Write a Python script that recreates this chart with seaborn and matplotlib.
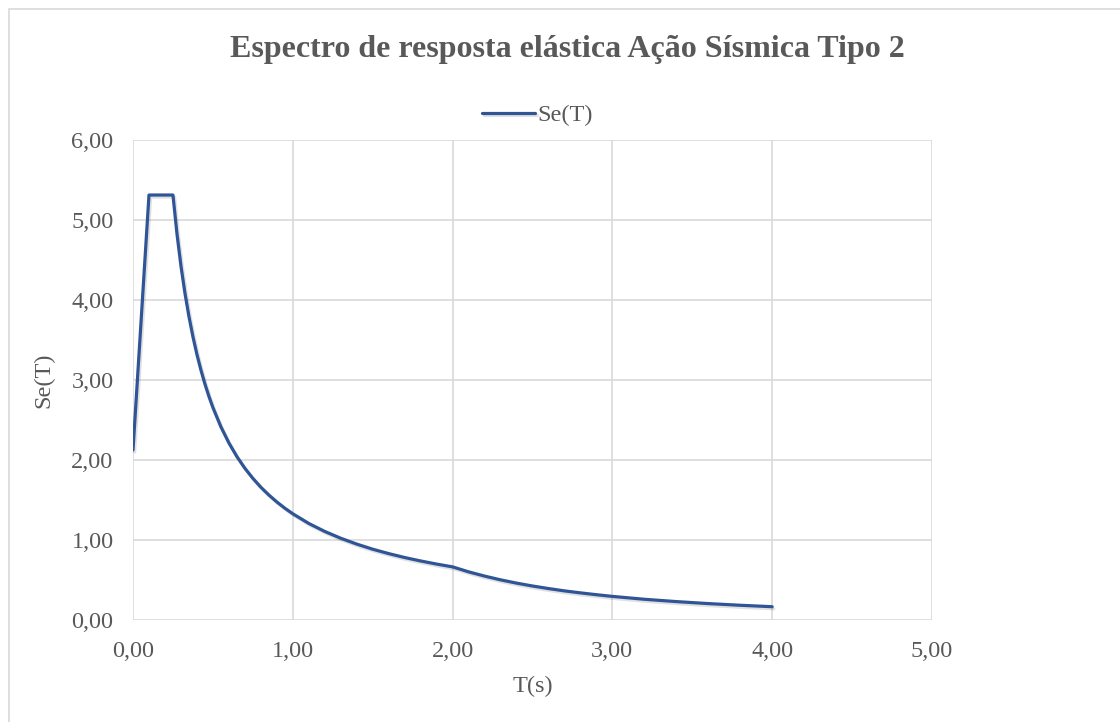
import matplotlib
matplotlib.use("Agg")
import matplotlib.pyplot as plt
import matplotlib.patheffects as pe
import seaborn as sns
import pandas as pd
from matplotlib.patches import Rectangle
from matplotlib.ticker import FixedLocator, FuncFormatter

# Elastic response spectrum, seismic action type 2
periods = [0.000, 0.100, 0.250, 0.275, 0.300, 0.325, 0.350, 0.375, 0.400,
           0.425, 0.450, 0.475, 0.500, 0.550, 0.600, 0.650, 0.700, 0.750,
           0.800, 0.850, 0.900, 0.950, 1.000, 1.100, 1.200, 1.300, 1.400,
           1.500, 1.600, 1.700, 1.800, 1.900, 2.000, 2.100, 2.200, 2.300,
           2.400, 2.500, 2.600, 2.700, 2.800, 2.900, 3.000, 3.200, 3.400,
           3.600, 3.800, 4.000]
se_values = [2.125, 5.313, 5.313, 4.830, 4.427, 4.087, 3.795, 3.542, 3.320,
             3.125, 2.951, 2.796, 2.656, 2.415, 2.214, 2.043, 1.897, 1.771,
             1.660, 1.563, 1.476, 1.398, 1.328, 1.207, 1.107, 1.022, 0.949,
             0.885, 0.830, 0.781, 0.738, 0.699, 0.664, 0.602, 0.549, 0.502,
             0.461, 0.425, 0.393, 0.364, 0.339, 0.316, 0.295, 0.259, 0.230,
             0.205, 0.184, 0.166]
x_ticks = [0, 1, 2, 3, 4, 5]
y_ticks = [0, 1, 2, 3, 4, 5, 6]

title = "Espectro de resposta elástica Ação Sísmica Tipo 2"
series_name = "Se(T)"
x_label = "T(s)"
y_label = "Se(T)"

sns.set_style("white")
plt.rcParams["font.family"] = ["Liberation Serif", "DejaVu Serif"]

text_grey = "#595959"
grid_grey = "#d9d9d9"
line_blue = "#2f5597"

df = pd.DataFrame({"T": periods, "Se": se_values})

fig = plt.figure(figsize=(11.2, 7.22), dpi=100)
ax = fig.add_axes([0.11875, 0.1413, 0.8321 - 0.11875, 0.806 - 0.1413])

sns.lineplot(data=df, x="T", y="Se", ax=ax, color=line_blue, linewidth=2.3,
             label=series_name, legend=False)
for ln in ax.lines:
    ln.set_solid_joinstyle("round")
    ln.set_path_effects([pe.SimpleLineShadow(offset=(1.2, -1.5), alpha=0.12,
                                             shadow_color="black"),
                         pe.Normal()])

ax.set_xlim(0, 5)
ax.set_ylim(0, 6)
ax.xaxis.set_major_locator(FixedLocator(x_ticks))
ax.yaxis.set_major_locator(FixedLocator(y_ticks))
fmt = FuncFormatter(lambda v, p: f"{v:.2f}".replace(".", ","))
ax.xaxis.set_major_formatter(fmt)
ax.yaxis.set_major_formatter(fmt)
ax.grid(True, color=grid_grey, linewidth=1.2)
ax.set_axisbelow(True)
for s in ax.spines.values():
    s.set_visible(False)
ax.tick_params(axis="both", length=0, labelsize=17.5, colors=text_grey)
ax.tick_params(axis="x", pad=15)
ax.tick_params(axis="y", pad=14)

ax.set_xlabel(x_label, fontsize=17.5, color=text_grey, labelpad=10)
ax.set_ylabel(y_label, fontsize=17.5, color=text_grey, labelpad=12)

fig.text(0.507, 0.931, title, ha="center", va="center", fontsize=23,
         fontweight="bold", color=text_grey)

handles, labels = ax.get_legend_handles_labels()
fig.legend(handles, labels, loc="center", bbox_to_anchor=(0.480, 0.840),
           frameon=False, fontsize=17.5, labelcolor=text_grey,
           handlelength=2.2, handletextpad=0.1)

# outer chart border
fig.patches.append(Rectangle((9 / 1120, -0.05), 1.2, 1 - 9 / 722 + 0.05,
                             transform=fig.transFigure, fill=False,
                             edgecolor=grid_grey, linewidth=1.2))

fig.savefig("out.png", dpi=100)
